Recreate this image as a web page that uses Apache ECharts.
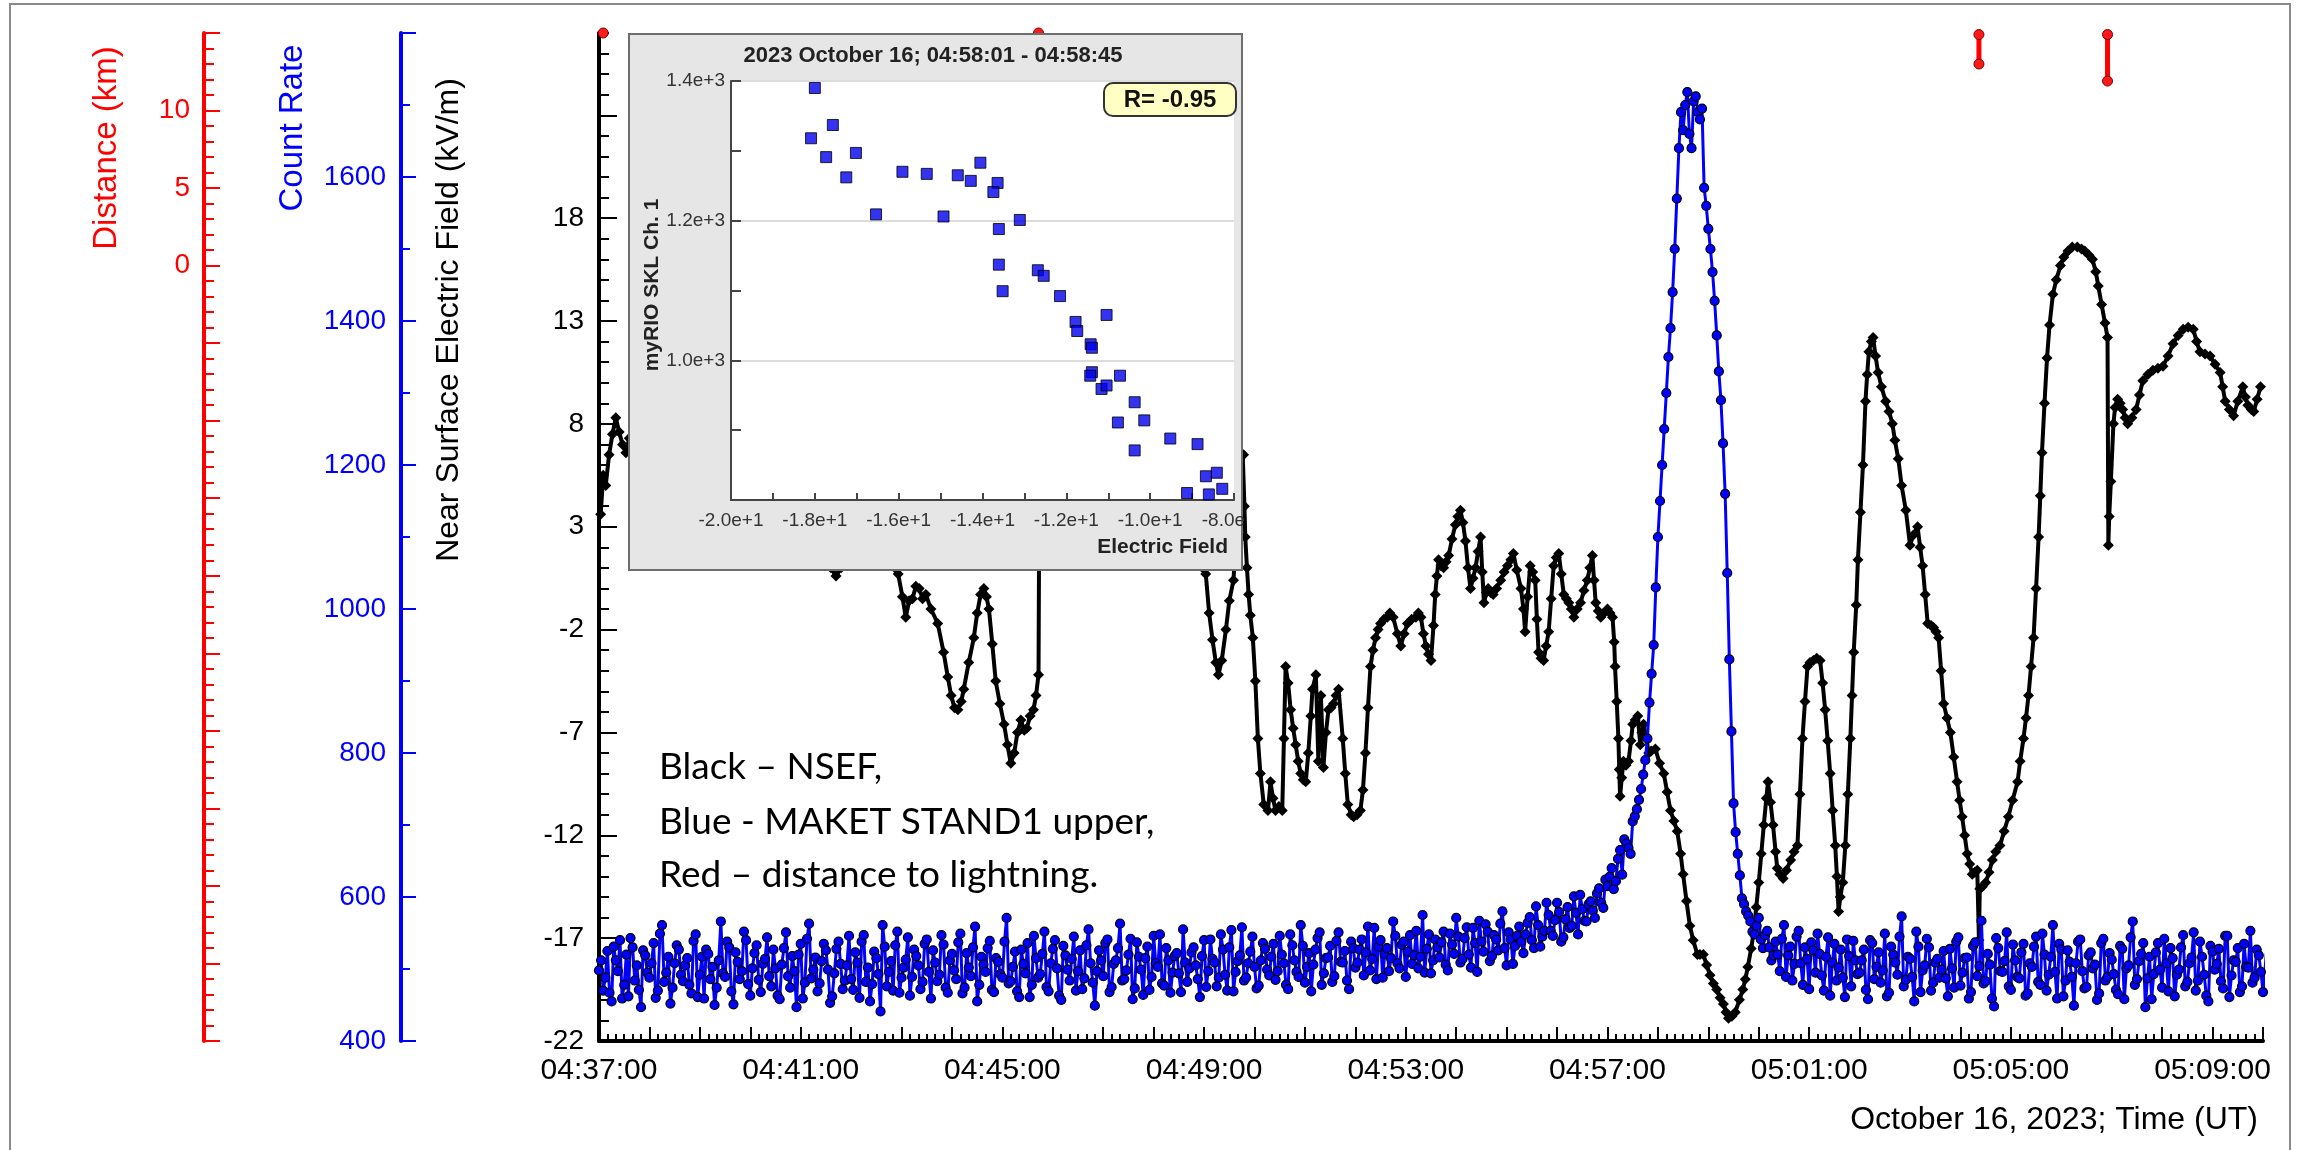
<!DOCTYPE html>
<html>
<head>
<meta charset="utf-8">
<script src="https://cdn.jsdelivr.net/npm/echarts@6/dist/echarts.min.js"></script>
<style>
html,body{margin:0;padding:0;background:#fff;}
#chart{width:2303px;height:1150px;}
</style>
</head>
<body>
<div id="chart"></div>
<script>
// ---- time axis: seconds after 04:37:00 UT ----
const START_CLOCK = '04:37:00';
const TIME_SPAN = 1980;           // 04:37:00 .. 05:10:00
const LABEL_EVERY = 240;          // every 4 minutes

// ---- NSEF (kV/m) : [seconds, field] ----
const nsef = [
 [2,3.6],[5,5.5],[8,5.0],[12,6.5],[16,7.5],[20,8.3],[24,7.6],[28,7.0],[32,6.6],[36,7.3],
 [70,6.5],[130,5.0],[190,4.0],[240,3.0],[270,1.4],
 [276,1.0],[282,0.6],[288,1.0],[296,2.0],[320,2.6],[345,2.0],
 [352,1.0],[356,0.7],[361,-0.4],[365,-1.4],[369,-0.6],[373,-0.5],[377,0.1],[381,0.0],[385,-0.5],[389,-0.3],
 [395,-1.0],[403,-1.7],[410,-3.1],[415,-4.3],[419,-5.2],[423,-5.8],[427,-5.9],[431,-5.5],[434,-4.9],[440,-3.6],
 [446,-2.4],[450,-1.2],[454,-0.3],[458,0.0],[461,-0.4],[464,-1.0],[468,-2.7],[472,-4.5],[477,-5.6],[482,-6.6],
 [486,-7.6],[490,-8.5],[494,-8.0],[498,-7.0],[502,-6.4],[506,-6.9],[509,-6.8],[513,-6.2],[517,-5.9],[520,-5.2],[523,-4.2],
 [524,5.5],[560,6.0],[620,7.0],[680,5.0],[712,2.0],
 [718,1.0],[722,0.7],[726,-1.2],[730,-2.5],[734,-3.6],[737,-4.2],[741,-3.5],[746,-2.0],[750,-0.6],[755,0.4],
 [760,4.0],[766,6.5],
 [767,6.5],[768,4.0],[769,2.5],[771,1.0],[773,-0.3],[775,-1.3],[778,-2.4],[781,-4.5],[784,-7.3],[787,-9.0],
 [791,-10.5],[796,-10.8],[799,-9.4],[802,-10.2],[805,-10.8],[809,-10.6],[813,-10.8],[815,-7.3],[817,-3.8],[820,-4.6],
 [823,-5.9],[826,-6.8],[829,-7.6],[832,-8.4],[835,-9.0],[838,-9.3],[841,-9.4],[844,-8.0],[847,-6.2],[849,-4.9],
 [853,-4.2],[856,-8.4],[859,-5.2],[862,-8.7],[865,-7.0],[868,-5.9],[871,-5.8],[874,-5.6],[877,-5.2],[880,-4.9],
 [885,-7.3],[888,-9.0],[891,-10.5],[895,-11.0],[898,-11.1],[902,-11.0],[906,-10.8],[909,-9.8],[912,-8.0],[915,-5.8],
 [918,-3.8],[921,-3.0],[924,-2.4],[927,-2.0],[930,-1.7],[934,-1.5],[938,-1.4],[941,-1.2],[945,-1.4],[950,-2.2],
 [954,-2.8],[958,-2.2],[962,-1.7],[967,-1.5],[972,-1.4],[975,-1.2],[978,-1.4],[981,-2.2],[984,-2.8],[987,-3.2],
 [990,-3.5],[993,-1.8],[995,-0.3],[997,0.6],[999,1.4],[1002,1.1],[1005,1.0],[1008,1.3],[1011,1.6],[1015,2.4],
 [1019,3.1],[1022,3.5],[1025,3.8],[1028,3.2],[1031,2.3],[1034,1.0],[1037,0.0],[1040,0.5],[1043,1.0],[1046,1.8],
 [1049,2.5],[1051,0.8],[1053,-0.7],[1056,-0.2],[1058,0.0],[1061,-0.2],[1064,-0.3],[1068,0.0],[1073,0.4],[1077,0.8],
 [1081,1.1],[1085,1.4],[1088,1.7],[1092,0.9],[1097,0.0],[1100,-1.0],[1102,-2.1],[1105,-0.4],[1108,1.1],[1111,0.8],
 [1114,0.4],[1116,-1.5],[1118,-3.1],[1121,-3.4],[1124,-3.5],[1127,-2.8],[1130,-2.1],[1133,-0.5],[1136,1.1],[1139,1.5],
 [1142,1.7],[1145,0.7],[1148,-0.3],[1151,-0.5],[1154,-0.7],[1157,-1.0],[1160,-1.4],[1164,-1.0],[1168,-0.7],[1172,-0.1],
 [1176,0.4],[1179,1.0],[1182,1.6],[1184,0.4],[1186,-0.7],[1189,-1.1],[1192,-1.4],[1196,-1.2],[1200,-1.0],[1203,-1.2],
 [1206,-1.4],[1208,-2.6],[1209,-3.8],[1211,-5.5],[1213,-7.3],[1214,-8.8],[1215,-10.1],[1217,-9.2],[1219,-8.4],[1222,-8.6],
 [1225,-8.4],[1228,-7.4],[1230,-6.6],[1233,-6.4],[1236,-6.2],[1239,-7.6],[1241,-7.0],[1243,-6.6],[1246,-7.2],[1249,-8.0],
 [1252,-7.9],[1257,-7.8],[1262,-8.5],[1267,-9.0],[1271,-9.9],[1275,-10.8],[1279,-11.3],[1283,-11.8],[1287,-12.9],[1290,-13.9],
 [1294,-15.2],[1298,-16.4],[1302,-17.1],[1307,-17.8],[1310,-17.8],[1314,-17.8],[1318,-18.3],[1322,-18.8],[1326,-19.2],[1330,-19.5],
 [1334,-19.9],[1338,-20.2],[1341,-20.6],[1344,-20.9],[1348,-20.8],[1352,-20.6],[1357,-20.0],[1361,-19.5],[1364,-19.0],[1367,-18.4],
 [1371,-17.5],[1374,-16.7],[1377,-15.5],[1380,-14.3],[1383,-12.9],[1386,-11.5],[1389,-10.2],[1391,-9.4],[1394,-10.4],[1397,-11.5],
 [1400,-12.8],[1402,-13.6],[1405,-13.9],[1409,-14.1],[1413,-13.7],[1418,-13.2],[1422,-12.8],[1426,-12.5],[1429,-10.0],[1432,-7.3],
 [1435,-5.5],[1438,-3.8],[1441,-3.6],[1445,-3.5],[1449,-3.4],[1453,-3.5],[1456,-4.6],[1459,-5.9],[1462,-7.4],[1465,-9.0],
 [1468,-10.8],[1471,-12.5],[1473,-14.0],[1475,-15.7],[1477,-15.0],[1480,-14.3],[1483,-12.5],[1486,-10.0],[1489,-7.3],[1491,-5.2],
 [1493,-3.1],[1496,-0.8],[1498,1.4],[1501,3.7],[1504,6.0],[1507,9.1],[1509,10.4],[1511,11.5],[1514,12.0],[1516,12.2],
 [1519,11.3],[1522,10.5],[1526,9.8],[1531,9.1],[1535,8.6],[1539,8.0],[1542,7.2],[1546,6.3],[1550,5.0],[1555,3.8],
 [1560,2.1],[1564,2.6],[1569,3.0],[1572,2.0],[1575,1.1],[1578,-0.3],[1581,-1.7],[1585,-1.8],[1588,-1.9],[1591,-2.1],
 [1594,-2.4],[1597,-4.0],[1600,-5.6],[1604,-6.3],[1608,-7.0],[1612,-8.2],[1616,-9.4],[1619,-10.3],[1622,-11.1],[1625,-12.0],
 [1628,-12.9],[1631,-13.4],[1634,-13.9],[1637,-13.8],[1640,-13.7],[1642,-17.1],[1643,-14.6],[1646,-14.5],[1650,-14.3],[1654,-13.8],
 [1658,-13.2],[1662,-12.8],[1667,-12.5],[1672,-11.8],[1677,-11.1],[1682,-10.3],[1688,-9.4],[1691,-8.4],[1695,-7.3],[1698,-6.3],
 [1701,-5.2],[1704,-3.8],[1707,-2.4],[1710,0.0],[1713,2.5],[1715,4.5],[1717,6.6],[1720,9.0],[1723,11.2],[1726,12.8],
 [1730,14.3],[1734,15.0],[1739,15.7],[1743,16.1],[1748,16.4],[1753,16.6],[1759,16.6],[1764,16.5],[1768,16.4],[1773,16.2],
 [1777,16.0],[1781,15.4],[1784,14.7],[1788,13.8],[1792,12.9],[1795,12.2],[1796,2.1],[1797,3.5],[1799,5.2],[1802,8.0],
 [1804,8.8],[1807,9.2],[1810,9.0],[1813,8.7],[1816,8.3],[1819,8.0],[1824,8.3],[1829,8.7],[1833,9.4],[1837,10.1],
 [1843,10.4],[1849,10.6],[1855,10.7],[1861,10.8],[1867,11.3],[1873,11.9],[1879,12.3],[1885,12.6],[1891,12.7],[1897,12.6],
 [1901,12.0],[1905,11.5],[1911,11.4],[1917,11.3],[1923,10.9],[1929,10.5],[1932,9.8],[1935,9.1],[1940,8.7],[1945,8.4],
 [1950,9.1],[1956,9.8],[1959,9.3],[1962,8.9],[1966,8.7],[1969,8.6],[1973,9.2],[1977,9.8]
];

// ---- MAKET STAND1 upper count rate ----
// countRate: readings at 0, 5, 10 ... s; countRateMid: readings at 2.5, 7.5, 12.5 ... s
const COUNT_STEP = 5;
const countRate = [
 498,470,525,455,512,540,478,462,530,505,447,519,488,536,470,561,495,452,508,527,
 483,515,466,548,492,459,521,503,474,566,489,530,451,510,497,540,463,522,485,507,
 544,476,501,458,529,490,518,447,535,481,563,499,469,511,526,453,494,538,472,505,
 486,523,460,547,502,479,515,441,531,496,470,552,488,513,463,527,505,482,541,459,
 509,492,534,467,521,486,549,474,502,530,455,517,496,539,468,510,488,571,483,524,
 461,507,536,478,515,493,552,469,528,501,457,519,484,545,497,472,533,508,449,526,
 490,541,475,512,563,486,520,458,537,499,515,471,546,503,480,529,467,518,494,555,
 482,523,505,461,540,497,514,476,548,492,530,469,511,558,488,524,503,477,536,499,
 517,485,546,508,472,533,496,561,481,522,506,543,478,515,532,490,551,509,484,538,
 502,527,491,559,514,486,540,521,497,566,508,534,489,547,519,501,575,528,494,541,
 516,552,498,534,571,509,543,520,557,496,538,562,511,547,526,580,505,541,532,559,
 522,564,540,587,531,553,575,546,592,538,569,557,601,548,583,566,594,571,612,585,
 615,640,622,665,680,668,705,722,750,790,870,950,1100,1200,1300,1390,1500,1640,1665,1718,
 1640,1712,1680,1585,1528,1468,1380,1290,1160,930,730,660,598,580,566,548,571,529,553,512,
 538,497,561,519,484,545,508,530,472,526,549,491,517,463,535,502,488,541,476,512,
 495,527,458,536,503,481,549,467,520,492,573,485,514,455,531,498,542,470,509,488,
 525,462,501,538,477,515,459,532,490,567,483,506,448,529,496,551,471,512,487,535,
 466,503,545,478,520,492,561,459,527,484,510,449,538,497,475,523,506,466,542,489,
 513,471,532,458,505,566,486,521,447,517,493,536,474,508,529,462,499,547,482,516,
 470,538,492,455,524,507,483,546,461,512,529,476,503,553,488,519,468,535,497,524
];
const countRateMid = [
 512,488,467,531,497,459,520,543,484,471,526,495,508,460,549,482,517,474,533,492,
 505,478,539,461,517,527,486,450,512,494,538,469,523,486,552,479,501,533,468,514,
 490,527,463,506,551,474,497,520,459,542,487,516,480,535,499,462,528,507,484,546,
 471,509,538,482,455,524,493,561,476,511,533,467,502,544,489,518,472,535,496,526,
 483,547,474,512,498,537,466,522,490,559,478,506,529,471,515,493,538,480,503,469,
 527,494,461,546,488,521,475,508,540,463,532,499,514,470,526,487,555,481,497,512,
 536,468,507,529,484,498,542,473,517,464,531,489,508,548,477,512,495,522,468,509,
 501,530,486,518,475,541,509,488,527,470,554,496,519,484,508,545,473,512,528,491,
 535,497,520,478,548,512,489,532,503,469,527,551,494,516,482,539,510,525,472,529,
 509,541,523,498,557,531,488,529,515,546,501,538,524,507,553,517,495,548,512,530,
 537,506,549,521,545,514,558,502,536,567,524,552,518,541,563,529,551,507,546,538,
 548,572,529,561,545,592,553,568,579,544,586,560,578,603,567,590,581,605,592,624,
 628,611,653,631,674,660,712,735,770,820,910,1030,1150,1250,1350,1440,1570,1690,1700,1660,
 1705,1690,1695,1560,1500,1428,1330,1230,1050,830,690,630,590,574,552,560,541,547,530,519,
 520,542,489,531,507,553,478,514,537,495,521,470,544,509,484,527,461,518,539,493,
 512,471,540,486,523,498,462,531,509,545,476,517,489,552,468,505,530,481,514,499,
 487,528,474,544,495,516,468,537,504,480,521,459,543,497,511,476,534,489,523,463,
 508,531,482,549,470,517,496,535,462,526,489,508,541,473,519,501,457,536,484,522,
 493,465,528,501,544,478,511,536,487,458,523,499,542,469,515,492,530,476,508,551,
 484,517,463,532,499,528,473,546,491,510,468,535,502,481,527,496
];

// ---- lightning distance (km) ----
const strikeTime = [5, 523, 1642, 1642, 1795, 1795];
const strikeKm   = [15.0, 15.0, 14.9, 13.0, 14.9, 11.9];

// ---- scatter inset: electric field vs count rate, 04:58:01 - 04:58:45 ----
const insetField = [-18.0,-18.09,-17.57,-17.73,-17.02,-17.25,-16.54,-15.91,-15.33,-14.93,-14.59,-14.28,-14.05,-13.64,-13.74,
 -13.11,-13.61,-13.61,-13.52,-12.68,-12.54,-12.15,-11.78,-11.74,-11.04,-11.42,-11.39,-11.39,-11.43,-11.16,-11.04,-10.72,
 -10.37,-10.77,-10.14,-10.37,-9.52,-8.87,-8.67,-8.41,-8.28,-9.12,-8.60];
const insetCounts = [1390,1318,1337,1291,1297,1262,1209,1270,1267,1206,1265,1257,1283,1254,1241,
 1201,1188,1137,1099,1129,1121,1092,1055,1042,1065,1023,1018,983,978,959,964,978,
 940,911,914,871,888,880,834,839,816,810,808];
const insetR = 'R= -0.95';

// ---- axis tick values ----
const fieldTicks = [-22,-17,-12,-7,-2,3,8,13,18,23];
const fieldLabels = [-22,-17,-12,-7,-2,3,8,13,18];
const distLabels = [0,5,10];

// -------------------------------------------------------------------------
const SANS = '"Liberation Sans", Arial, Helvetica, sans-serif';
const NOTE_FONT = '37px Lato, "Open Sans", sans-serif';

function clockLabel(sec) {
  const p = START_CLOCK.split(':').map(Number);
  let t = p[0]*3600 + p[1]*60 + p[2] + sec;
  const h = Math.floor(t/3600), m = Math.floor((t%3600)/60), s = t%60;
  const z = n => String(n).padStart(2,'0');
  return z(h)+':'+z(m)+':'+z(s);
}

const fieldMinor = [];
for (let v = -22; v <= 27; v++) fieldMinor.push(v);

// merge the two count-rate sample sets into one time-ordered series
const countData = [];
countRate.forEach((v, i) => {
  countData.push([i*COUNT_STEP, v]);
  if (i < countRateMid.length) countData.push([i*COUNT_STEP + COUNT_STEP/2, countRateMid[i]]);
});

// strikes at the same instant are joined by a segment; separate instants are not
const strikeData = [];
for (let i = 0; i < strikeTime.length; i++) {
  if (i > 0 && strikeTime[i] !== strikeTime[i-1]) strikeData.push([strikeTime[i-1], '-']);
  strikeData.push([strikeTime[i], strikeKm[i]]);
}

const insetData = insetField.map((f, i) => [f, insetCounts[i]]);

function expLabel(v) {
  return v.toExponential(1);
}

const chart = echarts.init(document.getElementById('chart'), null, {renderer: 'canvas'});

const option = {
  animation: false,
  backgroundColor: '#ffffff',
  textStyle: {fontFamily: SANS},
  grid: [
    {left: 599, right: 40, top: 33, bottom: 109, containLabel: false},
    {left: 731, top: 81, width: 503, height: 419, containLabel: false, show: false}
  ],
  xAxis: [
    {
      type: 'value', gridIndex: 0, min: 0, max: TIME_SPAN, interval: 60,
      axisLine: {onZero: false, lineStyle: {color: '#000', width: 4}},
      axisTick: {inside: true, length: 14, lineStyle: {color: '#000', width: 2}},
      minorTick: {show: true, splitNumber: 6, length: 7, lineStyle: {color: '#000', width: 2}},
      splitLine: {show: false},
      axisLabel: {
        fontSize: 30, color: '#000', fontFamily: SANS, margin: 15,
        formatter: v => (v % LABEL_EVERY === 0 && v < TIME_SPAN) ? clockLabel(v) : ''
      }
    },
    {
      type: 'value', gridIndex: 1, min: -20, max: -8, interval: 2, z: 30,
      axisLine: {onZero: false, lineStyle: {color: '#444', width: 2}},
      axisTick: {inside: true, length: 7, lineStyle: {color: '#444', width: 2}},
      minorTick: {show: true, splitNumber: 2, length: 7, lineStyle: {color: '#444', width: 2}},
      splitLine: {show: false},
      axisLabel: {
        fontSize: 19, color: '#333', fontFamily: SANS, margin: 11,
        formatter: v => v === -8 ? '-8.0e    ' : expLabel(v)
      }
    }
  ],
  yAxis: [
    {
      type: 'value', gridIndex: 0, position: 'left', offset: 0, min: -22, max: 27,
      axisLine: {show: true, onZero: false, lineStyle: {color: '#000', width: 4}},
      axisTick: {show: true, inside: true, length: 18, customValues: fieldTicks, lineStyle: {color: '#000', width: 2}},
      axisLabel: {show: true, customValues: fieldLabels, fontSize: 28, color: '#000', fontFamily: SANS, margin: 15,
        formatter: v => String(v)},
      splitLine: {show: false}
    },
    {
      type: 'value', gridIndex: 0, position: 'left', offset: 198, min: 400, max: 1800, interval: 200,
      axisLine: {show: true, onZero: false, lineStyle: {color: '#0000ff', width: 4}},
      axisTick: {show: true, inside: true, length: 15, lineStyle: {color: '#0000ff', width: 2}},
      minorTick: {show: true, splitNumber: 2, length: 9, lineStyle: {color: '#0000ff', width: 2}},
      axisLabel: {fontSize: 28, color: '#0000ff', fontFamily: SANS, margin: 15, showMaxLabel: false,
        formatter: v => String(v)},
      splitLine: {show: false}
    },
    {
      type: 'value', gridIndex: 0, position: 'left', offset: 395, min: -50, max: 15, interval: 5,
      axisLine: {show: true, onZero: false, lineStyle: {color: '#ff0000', width: 4}},
      axisTick: {show: true, inside: true, length: 16, lineStyle: {color: '#ff0000', width: 2}},
      minorTick: {show: true, splitNumber: 5, length: 10, lineStyle: {color: '#ff0000', width: 2}},
      axisLabel: {fontSize: 28, color: '#ff0000', fontFamily: SANS, margin: 14,
        formatter: v => distLabels.indexOf(v) >= 0 ? String(v) : ''},
      splitLine: {show: false}
    },
    {
      // 1 kV/m minor ticks on the field axis
      type: 'value', gridIndex: 0, position: 'left', offset: 0, min: -22, max: 27,
      axisLine: {show: false, onZero: false},
      axisTick: {show: true, inside: true, length: 10, customValues: fieldMinor, lineStyle: {color: '#000', width: 2}},
      axisLabel: {show: false},
      splitLine: {show: false}
    },
    {
      type: 'value', gridIndex: 1, min: 800, max: 1400, interval: 200, z: 30,
      axisLine: {show: true, onZero: false, lineStyle: {color: '#444', width: 2}},
      axisTick: {show: true, inside: true, length: 10, lineStyle: {color: '#444', width: 2}},
      minorTick: {show: true, splitNumber: 2, length: 10, lineStyle: {color: '#444', width: 2}},
      axisLabel: {fontSize: 19, color: '#333', fontFamily: SANS, margin: 6,
        formatter: v => v === 800 ? '' : expLabel(v)},
      splitLine: {show: true, lineStyle: {color: '#dcdcdc', width: 2}}
    }
  ],
  series: [
    {
      name: 'NSEF', type: 'line', xAxisIndex: 0, yAxisIndex: 0, data: nsef,
      symbol: 'diamond', symbolSize: 11, showSymbol: true,
      itemStyle: {color: '#000'}, lineStyle: {color: '#000', width: 4}, z: 3
    },
    {
      name: 'MAKET STAND1 upper', type: 'line', xAxisIndex: 0, yAxisIndex: 1, data: countData,
      symbol: 'circle', symbolSize: 9, showSymbol: true,
      itemStyle: {color: '#0000ff', borderColor: '#000000', borderWidth: 1.2},
      lineStyle: {color: '#0000ff', width: 3}, z: 4
    },
    {
      name: 'Distance', type: 'line', xAxisIndex: 0, yAxisIndex: 2, data: strikeData,
      symbol: 'circle', symbolSize: 10, showSymbol: true, connectNulls: false, clip: false,
      itemStyle: {color: '#ff1a1a', borderColor: '#7a0000', borderWidth: 1},
      lineStyle: {color: '#ff0000', width: 5}, z: 5
    },
    {
      name: 'inset', type: 'scatter', xAxisIndex: 1, yAxisIndex: 4, data: insetData,
      symbol: 'rect', symbolSize: 11,
      itemStyle: {color: '#0000ee', borderColor: '#000', borderWidth: 1}, z: 31
    }
  ],
  graphic: [
    // outer frame
    {type: 'rect', shape: {x: 10, y: 4, width: 2280, height: 1170}, style: {fill: 'none', stroke: '#8a8a8a', lineWidth: 2}, z: 1},
    // axis titles
    {type: 'text', x: 107, y: 148, rotation: Math.PI/2,
      style: {text: 'Distance (km)', fill: '#ff0000', font: '33px ' + SANS, textAlign: 'center', textVerticalAlign: 'middle'}, z: 5},
    {type: 'text', x: 293, y: 128, rotation: Math.PI/2,
      style: {text: 'Count Rate', fill: '#0000ff', font: '33px ' + SANS, textAlign: 'center', textVerticalAlign: 'middle'}, z: 5},
    {type: 'text', x: 449, y: 320, rotation: Math.PI/2,
      style: {text: 'Near Surface Electric Field (kV/m)', fill: '#000', font: '32px ' + SANS, textAlign: 'center', textVerticalAlign: 'middle'}, z: 5},
    {type: 'text', x: 2258, y: 1120,
      style: {text: 'October 16, 2023; Time (UT)', fill: '#000', font: '32px ' + SANS, textAlign: 'right', textVerticalAlign: 'middle'}, z: 5},
    // legend note
    {type: 'text', x: 659, y: 767,
      style: {text: 'Black \u2013 NSEF,', fill: '#000', font: NOTE_FONT, textAlign: 'left', textVerticalAlign: 'middle'}, z: 5},
    {type: 'text', x: 659, y: 822,
      style: {text: 'Blue - MAKET STAND1 upper,', fill: '#000', font: NOTE_FONT, textAlign: 'left', textVerticalAlign: 'middle'}, z: 5},
    {type: 'text', x: 659, y: 875,
      style: {text: 'Red \u2013 distance to lightning.', fill: '#000', font: NOTE_FONT, textAlign: 'left', textVerticalAlign: 'middle'}, z: 5},
    // inset panel
    {type: 'rect', shape: {x: 629, y: 34, width: 613, height: 536}, style: {fill: '#e6e6e6', stroke: '#6e6e6e', lineWidth: 2}, z: 20},
    {type: 'rect', shape: {x: 731, y: 81, width: 503, height: 419}, style: {fill: '#ffffff'}, z: 21},
    {type: 'text', x: 933, y: 56,
      style: {text: '2023 October 16; 04:58:01 - 04:58:45', fill: '#222', font: 'bold 22px ' + SANS, textAlign: 'center', textVerticalAlign: 'middle'}, z: 22},
    {type: 'text', x: 652, y: 285, rotation: Math.PI/2,
      style: {text: 'myRIO SKL Ch. 1', fill: '#222', font: 'bold 21px ' + SANS, textAlign: 'center', textVerticalAlign: 'middle'}, z: 40},
    {type: 'text', x: 1228, y: 547,
      style: {text: 'Electric Field', fill: '#222', font: 'bold 21px ' + SANS, textAlign: 'right', textVerticalAlign: 'middle'}, z: 22},
    {type: 'rect', shape: {x: 1104, y: 83, width: 132, height: 33, r: 9}, style: {fill: '#ffffc4', stroke: '#333', lineWidth: 2}, z: 40},
    {type: 'text', x: 1170, y: 100,
      style: {text: insetR, fill: '#111', font: 'bold 24px ' + SANS, textAlign: 'center', textVerticalAlign: 'middle'}, z: 41}
  ]
};

chart.setOption(option);
</script>
</body>
</html>
